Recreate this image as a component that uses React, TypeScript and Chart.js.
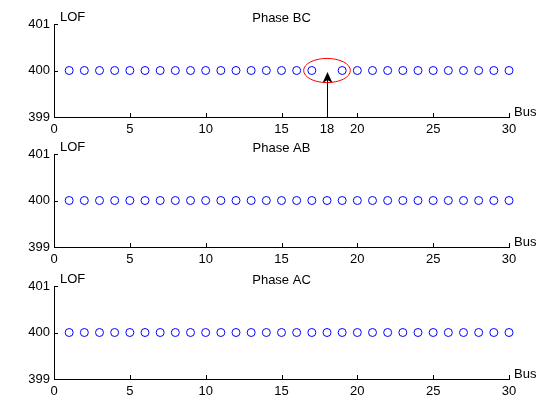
import React, { useEffect, useRef } from "react";
import { Chart, registerables } from "chart.js";

Chart.register(...registerables);

// ---- data ----
const buses = [1, 2, 3, 4, 5, 6, 7, 8, 9, 10, 11, 12, 13, 14, 15, 16, 17, 18, 19, 20, 21, 22, 23, 24, 25, 26, 27, 28, 29, 30];
const lofPhaseBC: (number | null)[] = [400, 400, 400, 400, 400, 400, 400, 400, 400, 400, 400, 400, 400, 400, 400, 400, 400, null, 400, 400, 400, 400, 400, 400, 400, 400, 400, 400, 400, 400];
const lofPhaseAB: (number | null)[] = [400, 400, 400, 400, 400, 400, 400, 400, 400, 400, 400, 400, 400, 400, 400, 400, 400, 400, 400, 400, 400, 400, 400, 400, 400, 400, 400, 400, 400, 400];
const lofPhaseAC: (number | null)[] = [400, 400, 400, 400, 400, 400, 400, 400, 400, 400, 400, 400, 400, 400, 400, 400, 400, 400, 400, 400, 400, 400, 400, 400, 400, 400, 400, 400, 400, 400];
const panelTitles = ["Phase BC", "Phase AB", "Phase AC"];
const xTickValues = [0, 5, 10, 15, 20, 25, 30];
const yTickValues = [399, 400, 401];
const highlightBus = 18;
const yAxisLabel = "LOF";
const xAxisLabel = "Bus";

const FONT = '"Liberation Sans", Arial, Helvetica, sans-serif';
const CANVAS_W = 539;
const CANVAS_H = 140;

const decorPlugin = {
  id: "matlabDecor",
  afterDraw(chart: any, _args: any, opts: any) {
    const { ctx, chartArea } = chart;
    const x = chart.scales.x;
    const y = chart.scales.y;
    ctx.save();
    // inward tick marks
    ctx.strokeStyle = "#000";
    ctx.lineWidth = 1;
    ctx.beginPath();
    xTickValues.forEach((v) => {
      const px = Math.round(x.getPixelForValue(v)) + 0.5;
      ctx.moveTo(px, chartArea.bottom);
      ctx.lineTo(px, chartArea.bottom - 4);
    });
    yTickValues.forEach((v) => {
      const py = Math.round(y.getPixelForValue(v)) + 0.5;
      ctx.moveTo(chartArea.left, py);
      ctx.lineTo(chartArea.left + 4, py);
    });
    ctx.stroke();

    // texts
    ctx.fillStyle = "#000";
    ctx.font = `13px ${FONT}`;
    ctx.textBaseline = "alphabetic";
    ctx.textAlign = "center";
    ctx.fillText(opts.title, (chartArea.left + chartArea.right) / 2, chartArea.top - 2);
    ctx.textAlign = "left";
    ctx.fillText(yAxisLabel, chartArea.left + 6, chartArea.top - 3);
    ctx.fillText(xAxisLabel, chartArea.right + 5, chartArea.bottom - 1);

    // highlight annotation
    if (opts.highlight != null) {
      const cx = x.getPixelForValue(opts.highlight);
      const cy = y.getPixelForValue(400);
      const rx = x.getPixelForValue(opts.highlight + 1.54) - cx;
      const ry = y.getPixelForValue(400) - y.getPixelForValue(400.26);
      ctx.strokeStyle = "#ff0000";
      ctx.lineWidth = 1;
      ctx.beginPath();
      ctx.ellipse(cx, cy, rx, ry, 0, 0, Math.PI * 2);
      ctx.stroke();

      const ax = Math.round(cx) + 0.5;
      const tipY = y.getPixelForValue(399.97);
      const baseY = chartArea.bottom;
      ctx.strokeStyle = "#000";
      ctx.beginPath();
      ctx.moveTo(ax, baseY);
      ctx.lineTo(ax, tipY + 8);
      ctx.stroke();
      ctx.fillStyle = "#000";
      ctx.beginPath();
      ctx.moveTo(ax, tipY);
      ctx.lineTo(ax - 5, tipY + 11);
      ctx.lineTo(ax, tipY + 8);
      ctx.lineTo(ax + 5, tipY + 11);
      ctx.closePath();
      ctx.fill();
    }
    ctx.restore();
  },
};

function makeConfig(title: string, values: (number | null)[], highlight: number | null): any {
  const points = buses
    .map((b, i) => ({ x: b, y: values[i] }))
    .filter((p) => p.y !== null);
  const xLabelValues = highlight != null ? [...xTickValues, highlight].sort((a, b) => a - b) : xTickValues;
  return {
    type: "scatter",
    data: {
      datasets: [
        {
          data: points,
          pointStyle: "circle",
          pointRadius: 4,
          pointBorderWidth: 1,
          pointBorderColor: "#0000ff",
          pointBackgroundColor: "rgba(0,0,0,0)",
          showLine: false,
          clip: false,
        },
      ],
    },
    options: {
      animation: false,
      responsive: false,
      maintainAspectRatio: false,
      events: [],
      layout: { padding: { left: 0, right: 30, top: 24, bottom: 0 } },
      plugins: {
        legend: { display: false },
        tooltip: { enabled: false },
        title: { display: false },
        matlabDecor: { title, highlight },
      },
      scales: {
        x: {
          type: "linear",
          position: "bottom",
          min: 0,
          max: 30,
          afterBuildTicks: (s: any) => {
            s.ticks = xLabelValues.map((v) => ({ value: v }));
          },
          afterFit: (s: any) => {
            s.height = 23;
          },
          grid: { display: false, drawTicks: false },
          border: { display: true, color: "#000", width: 1 },
          ticks: {
            color: "#000",
            font: { family: FONT, size: 13 },
            padding: 5,
            maxRotation: 0,
            autoSkip: false,
            callback: (v: any) => String(v),
          },
        },
        y: {
          type: "linear",
          position: "left",
          min: 399,
          max: 401,
          afterBuildTicks: (s: any) => {
            s.ticks = yTickValues.map((v) => ({ value: v }));
          },
          afterFit: (s: any) => {
            s.width = 54;
          },
          grid: { display: false, drawTicks: false },
          border: { display: true, color: "#000", width: 1 },
          ticks: {
            color: "#000",
            font: { family: FONT, size: 13 },
            padding: 4,
            autoSkip: false,
            callback: (v: any) => String(v),
          },
        },
      },
    },
    plugins: [decorPlugin],
  };
}

function Panel(props: { top: number; title: string; values: (number | null)[]; highlight: number | null }) {
  const ref = useRef<HTMLCanvasElement>(null);
  useEffect(() => {
    const chart = new Chart(ref.current as HTMLCanvasElement, makeConfig(props.title, props.values, props.highlight));
    return () => chart.destroy();
  }, []);
  return (
    <canvas
      ref={ref}
      width={CANVAS_W}
      height={CANVAS_H}
      style={{ position: "absolute", left: 0, top: props.top, display: "block", width: CANVAS_W, height: CANVAS_H }}
    />
  );
}

export default function App() {
  return (
    <div
      style={{
        position: "fixed",
        left: 0,
        top: 0,
        width: CANVAS_W,
        height: 401,
        overflow: "hidden",
        background: "#fff",
      }}
    >
      <Panel top={0} title={panelTitles[0]} values={lofPhaseBC} highlight={highlightBus} />
      <Panel top={130} title={panelTitles[1]} values={lofPhaseAB} highlight={null} />
      <Panel top={262} title={panelTitles[2]} values={lofPhaseAC} highlight={null} />
    </div>
  );
}
